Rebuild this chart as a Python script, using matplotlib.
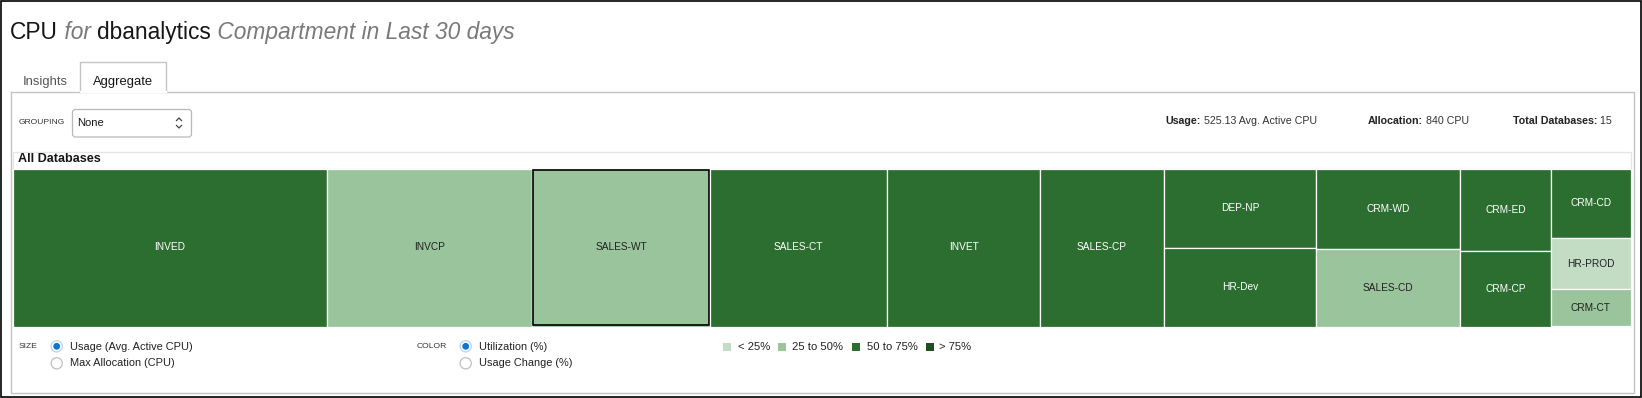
import matplotlib
matplotlib.use("Agg")
import matplotlib.pyplot as plt
from matplotlib.patches import Rectangle, FancyBboxPatch, Circle

plt.rcParams['font.family'] = ['Liberation Sans', 'DejaVu Sans']
plt.rcParams['hatch.color'] = "#7fa880"
plt.rcParams['hatch.linewidth'] = 0.6

# =========================
# Data
# =========================
names = ["INVED", "INVCP", "SALES-WT", "SALES-CT", "INVET", "SALES-CP",
         "DEP-NP", "HR-Dev", "CRM-WD", "SALES-CD", "CRM-ED", "CRM-CP",
         "CRM-CD", "HR-PROD", "CRM-CT"]
usage = [102.0, 66.5, 57.7, 57.5, 49.6, 40.2,
         24.9, 24.4, 23.9, 22.8, 15.4, 14.1,
         11.5, 8.3, 6.2]
util_band = [2, 1, 1, 2, 2, 2,
             2, 2, 2, 1, 2, 2,
             2, 0, 1]
column = [0, 1, 2, 3, 4, 5, 6, 6, 7, 7, 8, 8, 9, 9, 9]
selected = "SALES-WT"

band_labels = ["< 25%", "25 to 50%", "50 to 75%", "> 75%"]
band_colors = ["#c3dcc4", "#9ac49b", "#2c6e2f", "#1d4f20"]
band_text = ["#222222", "#222222", "#ffffff", "#ffffff"]

stats = [("Usage:", "525.13 Avg. Active CPU"),
         ("Allocation:", "840 CPU"),
         ("Total Databases:", "15")]

# =========================
# Figure in pixel coordinates
# =========================
W, H = 1642, 398
fig = plt.figure(figsize=(W / 100, H / 100), dpi=100)
ui = fig.add_axes([0, 0, 1, 1])
ui.set_xlim(0, W)
ui.set_ylim(H, 0)
ui.axis('off')
renderer = fig.canvas.get_renderer()

GRAY_LINE = "#c4c4c4"


def text_run(x, y, parts, size):
    for txt, color, style, weight in parts:
        t = ui.text(x, y, txt, color=color, style=style, weight=weight,
                    fontsize=size, va='baseline', ha='left')
        x += t.get_window_extent(renderer).width
    return x


# outer frame
ui.add_patch(Rectangle((0.5, 0.5), W - 1.5, H - 1.5, fill=False, ec="black", lw=1.2))

# title
text_run(10, 39, [("CPU", "#161616", "normal", "normal"),
                  (" for ", "#7a7a7a", "italic", "normal"),
                  ("dbanalytics", "#161616", "normal", "normal"),
                  (" Compartment in Last 30 days", "#7a7a7a", "italic", "normal")], 16.4)

# panel and tabs
px0, px1, py0, py1 = 10.7, 1634.3, 92.3, 392.5
tx0, tx1, ty0 = 80.3, 166.3, 62.3
ui.plot([px0, px0, px1, px1, px0], [py0, py1, py1, py0, py0], color=GRAY_LINE, lw=1)
ui.plot([tx0, tx0, tx1, tx1], [py0, ty0, ty0, py0], color=GRAY_LINE, lw=1)
ui.plot([tx0 + 0.6, tx1 - 0.6], [py0, py0], color="white", lw=1.6)
ui.text(22.5, 84.5, "Insights", fontsize=9.4, color="#555555", va='baseline')
ui.text(93, 84.5, "Aggregate", fontsize=9.4, color="#161616", va='baseline')

# grouping dropdown
ui.text(19, 123, "GROUPING", fontsize=6.1, color="#333333", va='center')
ui.add_patch(FancyBboxPatch((72.5, 109.5), 119, 27.5, boxstyle="round,pad=0,rounding_size=3",
                            fc="white", ec="#b8b8b8", lw=0.9))
ui.text(77.5, 123.5, "None", fontsize=8.1, color="#161616", va='center')
ui.plot([176.5, 179, 181.5], [120.5, 118, 120.5], color="#444444", lw=0.9)
ui.plot([176.5, 179, 181.5], [125.5, 128, 125.5], color="#444444", lw=0.9)

# stats line
for (label, value), sx in zip(stats, [1165.6, 1367.6, 1513]):
    text_run(sx, 124.3, [(label, "#222222", "normal", "bold"),
                         (" " + value, "#333333", "normal", "normal")], 7.7)

# "All Databases" header strip
ui.add_patch(Rectangle((12.5, 152), 1618, 17, fc="white", ec="#e6e6e6", lw=0.9))
ui.text(18, 159.5, "All Databases", fontsize=9.1, weight='bold', color="#161616", va='center')


# size / color options
def radio(x, y, on):
    ui.add_patch(Circle((x, y), 5.6, fc="white", ec="#c0c0c0" if not on else "#b9d4ee", lw=0.9))
    if on:
        ui.add_patch(Circle((x, y), 3.4, fc="#0d74d8", ec="none"))


ui.text(19, 346.5, "SIZE", fontsize=6.1, color="#333333", va='center')
radio(56.7, 346.3, True)
radio(56.7, 363.3, False)
ui.text(70, 346.5, "Usage (Avg. Active CPU)", fontsize=7.9, color="#222222", va='center')
ui.text(70, 363.5, "Max Allocation (CPU)", fontsize=7.9, color="#222222", va='center')

ui.text(416.7, 346.5, "COLOR", fontsize=6.1, color="#333333", va='center')
radio(465.7, 346.3, True)
radio(465.7, 363.3, False)
ui.text(479, 346.5, "Utilization (%)", fontsize=7.9, color="#222222", va='center')
ui.text(479, 363.5, "Usage Change (%)", fontsize=7.9, color="#222222", va='center')

# color legend
for lab, col, sx, lx, i in zip(band_labels, band_colors, [723.3, 778.3, 852.3, 926.0],
                               [737.7, 791.7, 866.7, 939.0], range(4)):
    ui.add_patch(Rectangle((sx, 343), 7.5, 7.5, fc=col, ec="none",
                           hatch="++++" if i == 3 else None))
    ui.text(lx, 347, lab, fontsize=8.1, color="#222222", va='center')

# =========================
# Treemap
# =========================
mx0, mx1, my0, my1 = 12.5, 1631.0, 168.5, 326.5
tm = fig.add_axes([mx0 / W, 1 - my1 / H, (mx1 - mx0) / W, (my1 - my0) / H])
total = sum(usage)
tm.set_xlim(0, total)
tm.set_ylim(1, 0)
tm.axis('off')

n_cols = max(column) + 1
col_sum = [sum(u for u, c in zip(usage, column) if c == k) for k in range(n_cols)]
col_x = []
x_left = 0.0
for k in range(n_cols):
    col_x.append(x_left)
    x_left += col_sum[k]
y_top = [0.0] * n_cols

for name, u, band, c in zip(names, usage, util_band, column):
    w = col_sum[c]
    h = u / col_sum[c]
    x0, y0 = col_x[c], y_top[c]
    y_top[c] += h
    tm.add_patch(Rectangle((x0, y0), w, h, fc=band_colors[band], ec="white", lw=0.9))
    tm.text(x0 + w / 2, y0 + h / 2, name, ha='center', va='center', fontsize=7.3,
            color=band_text[band])
    if name == selected:
        px_x = total / (mx1 - mx0)
        px_y = 1 / (my1 - my0)
        tm.add_patch(Rectangle((x0 + 1.2 * px_x, y0 + 1.2 * px_y), w - 2.4 * px_x, h - 2.4 * px_y,
                               fill=False, ec="black", lw=1.2))

fig.savefig("out.png", dpi=100)
